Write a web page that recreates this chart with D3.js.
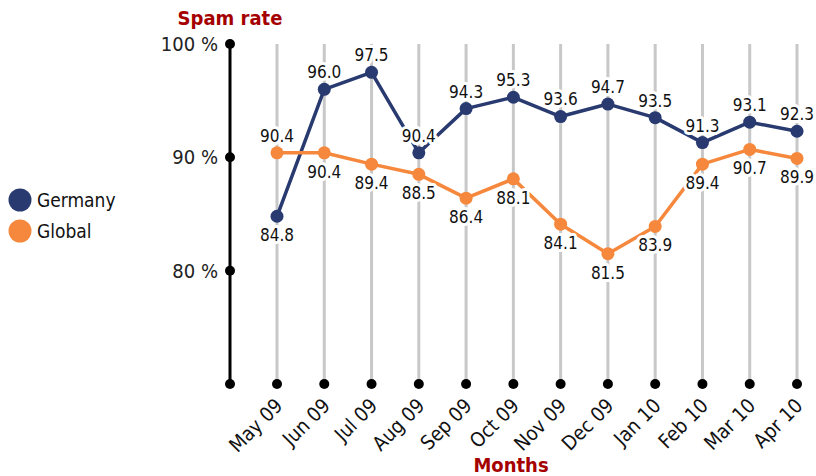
<!DOCTYPE html>
<html>
<head>
<meta charset="utf-8">
<script src="https://cdn.jsdelivr.net/npm/d3@7"></script>
<style>
  html, body { margin: 0; padding: 0; background: #fff; }
  svg { display: block; font-family: "DejaVu Sans Condensed", "Roboto", sans-serif; }
</style>
</head>
<body>
<svg id="chart" width="816" height="476"></svg>
<script>
// Monthly spam rate, Germany vs. global average
const months = ["May 09", "Jun 09", "Jul 09", "Aug 09", "Sep 09", "Oct 09",
                "Nov 09", "Dec 09", "Jan 10", "Feb 10", "Mar 10", "Apr 10"];
const germany = [84.8, 96.0, 97.5, 90.4, 94.3, 95.3, 93.6, 94.7, 93.5, 91.3, 93.1, 92.3];
const global  = [90.4, 90.4, 89.4, 88.5, 86.4, 88.1, 84.1, 81.5, 83.9, 89.4, 90.7, 89.9];
const yTicks = [100, 90, 80, 70];
const yTickLabels = ["100 %", "90 %", "80 %", ""];

const seriesList = [
  { name: "Germany", values: germany, color: "#283a6f", labelAbove: i => i !== 0 },
  { name: "Global",  values: global,  color: "#f5883c", labelAbove: i => i === 0 }
];

const svg = d3.select("#chart");

const x = d3.scalePoint().domain(months).range([277, 797]);
const y = d3.scaleLinear().domain([70, 100]).range([384, 44]);
const axisX = 230;

// Vertical month guides
svg.append("g").selectAll("line").data(months).join("line")
  .attr("x1", d => x(d)).attr("x2", d => x(d))
  .attr("y1", y(100)).attr("y2", y(70))
  .attr("stroke", "#c8c8c8").attr("stroke-width", 3);

// Y axis spine with tick dots
svg.append("line")
  .attr("x1", axisX).attr("x2", axisX)
  .attr("y1", y(100)).attr("y2", y(70))
  .attr("stroke", "#000").attr("stroke-width", 3);
svg.append("g").selectAll("circle").data(yTicks).join("circle")
  .attr("cx", axisX).attr("cy", d => y(d)).attr("r", 5).attr("fill", "#000");
svg.append("g").selectAll("text").data(yTicks).join("text")
  .attr("x", axisX - 12).attr("y", d => y(d))
  .attr("dy", "0.35em").attr("text-anchor", "end")
  .attr("font-size", 20).attr("fill", "#222")
  .text((d, i) => yTickLabels[i]);

// Month dots along the baseline
svg.append("g").selectAll("circle").data(months).join("circle")
  .attr("cx", d => x(d)).attr("cy", y(70)).attr("r", 5).attr("fill", "#000");

// Rotated month labels
svg.append("g").selectAll("text").data(months).join("text")
  .attr("transform", d => `translate(${x(d) + 2},${y(70) + 18}) rotate(-45)`)
  .attr("text-anchor", "end").attr("dy", "0.35em")
  .attr("font-size", 20).attr("fill", "#111")
  .text(d => d);

// Series lines and markers
const line = d3.line().x((d, i) => x(months[i])).y(d => y(d));
seriesList.forEach(s => {
  svg.append("path").datum(s.values)
    .attr("d", line).attr("fill", "none")
    .attr("stroke", s.color).attr("stroke-width", 3.5)
    .attr("stroke-linejoin", "round");
  svg.append("g").selectAll("circle").data(s.values).join("circle")
    .attr("cx", (d, i) => x(months[i])).attr("cy", d => y(d))
    .attr("r", 6.5).attr("fill", s.color);
});

// Value labels with white backing
seriesList.forEach(s => {
  svg.append("g").selectAll("text").data(s.values).join("text")
    .attr("x", (d, i) => x(months[i]))
    .attr("y", (d, i) => y(d) + (s.labelAbove(i) ? -17 : 19))
    .attr("dy", "0.35em").attr("text-anchor", "middle")
    .attr("font-size", 17).attr("fill", "#111")
    .attr("stroke", "#fff").attr("stroke-width", 6)
    .attr("paint-order", "stroke").attr("stroke-linejoin", "round")
    .text(d => d.toFixed(1));
});

// Titles
svg.append("text").attr("x", 230).attr("y", 18).attr("dy", "0.35em")
  .attr("text-anchor", "middle").attr("font-size", 20).attr("font-weight", "bold")
  .attr("fill", "#a50000").text("Spam rate");
svg.append("text").attr("x", 511).attr("y", 465).attr("dy", "0.35em")
  .attr("text-anchor", "middle").attr("font-size", 20).attr("font-weight", "bold")
  .attr("fill", "#a50000").text("Months");

// Legend
const legend = svg.append("g").selectAll("g").data(seriesList).join("g")
  .attr("transform", (d, i) => `translate(20,${200 + i * 31})`);
legend.append("circle").attr("r", 11.5).attr("fill", d => d.color);
legend.append("text").attr("x", 17).attr("dy", "0.35em")
  .attr("font-size", 19).attr("fill", "#111").text(d => d.name);
</script>
</body>
</html>
